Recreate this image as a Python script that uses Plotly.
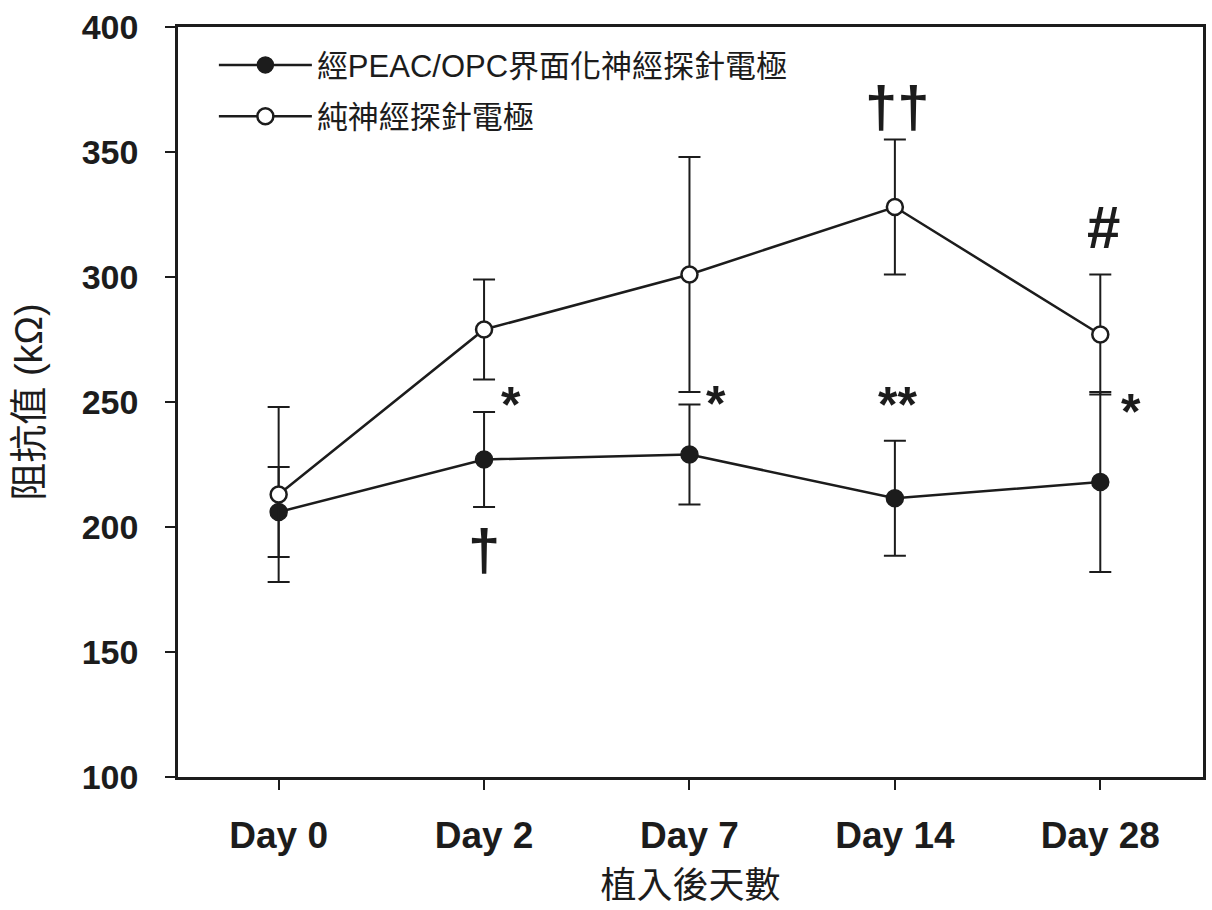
import plotly.graph_objects as go

days = ["Day 0", "Day 2", "Day 7", "Day 14", "Day 28"]

peac_mean = [206, 227, 229, 211.5, 218]
peac_err = [18, 19, 20, 23, 36]

bare_mean = [213, 279, 301, 328, 277]
bare_err = [35, 20, 47, 27, 24]

series_names = ["經PEAC/OPC界面化神經探針電極", "純神經探針電極"]

# significance marks: (category, label, y value)
sig_days = ["Day 2", "Day 2", "Day 7", "Day 14", "Day 14", "Day 28", "Day 28"]
sig_text = ["*", "†", "*", "**", "††", "#", "*"]
sig_y = [251.6, 192, 252, 251.6, 369, 320, 249.6]

y_ticks = [100, 150, 200, 250, 300, 350, 400]

INK = "#1c1c1c"
TICK_FONT = "Liberation Sans, Arial, sans-serif"
CJK_FONT = "Liberation Sans, Noto Sans CJK TC, sans-serif"

fig = go.Figure()

fig.add_trace(go.Scatter(
    x=days, y=peac_mean, name=series_names[0], mode="lines+markers",
    legendgroup="a",
    line=dict(color=INK, width=2.5),
    marker=dict(symbol="circle", size=17, color=INK, line=dict(color=INK, width=1.5)),
    error_y=dict(type="data", array=peac_err, visible=True, color=INK, thickness=2, width=11),
))
fig.add_trace(go.Scatter(
    x=days, y=bare_mean, name=series_names[1], mode="lines+markers",
    legendgroup="b",
    line=dict(color=INK, width=2.5),
    marker=dict(symbol="circle", size=16, color="white", line=dict(color=INK, width=2.5)),
    error_y=dict(type="data", array=bare_err, visible=True, color=INK, thickness=2, width=11),
))

for d, t, yv in zip(sig_days, sig_text, sig_y):
    if t in ("*", "**"):
        size, shift, ys, weight = 50, (27 if t == "*" else 3), -7, "bold"
        if d == "Day 28":
            shift = 31
            ys = -9
    elif t in ("†", "††"):
        size, shift, ys, weight = 58, (0 if t == "†" else 3), -2, "bold"
    else:
        size, shift, ys, weight = 60, 3, 0, "bold"
    fig.add_annotation(
        x=d, y=yv, xref="x", yref="y", text=t, showarrow=False,
        xanchor="center", yanchor="middle", xshift=shift, yshift=ys,
        font=dict(family=TICK_FONT, size=size, color=INK, weight=weight),
    )

fig.update_layout(
    width=1212, height=910,
    margin=dict(l=178, r=6, t=27, b=133),
    paper_bgcolor="white", plot_bgcolor="white",
    showlegend=True,
    legend=dict(
        x=0.035, y=0.985, xanchor="left", yanchor="top",
        bgcolor="rgba(0,0,0,0)", traceorder="grouped", tracegroupgap=8,
        font=dict(family=CJK_FONT, size=31, color=INK),
        itemwidth=93,
    ),
    xaxis=dict(
        type="category", categoryorder="array", categoryarray=days,
        range=[-0.49, 4.5],
        showline=True, linecolor=INK, linewidth=2.5, mirror=True,
        ticks="outside", ticklen=10, tickwidth=2, tickcolor=INK,
        showgrid=False, zeroline=False,
        tickfont=dict(family=TICK_FONT, size=37, color=INK, weight="bold"),
        ticklabelstandoff=14,
        title=dict(text="植入後天數", font=dict(family="Noto Sans CJK TC", size=36, color=INK), standoff=6),
    ),
    yaxis=dict(
        range=[100, 400], tickvals=y_ticks,
        showline=True, linecolor=INK, linewidth=2.5, mirror=True,
        ticks="outside", ticklen=10, tickwidth=2, tickcolor=INK,
        showgrid=False, zeroline=False,
        tickfont=dict(family=TICK_FONT, size=34, color=INK, weight="bold"),
        ticklabelstandoff=20,
        title=dict(text="阻抗值 (kΩ)", font=dict(family=CJK_FONT, size=38, color=INK), standoff=28),
    ),
)

fig.write_html("out.html")
